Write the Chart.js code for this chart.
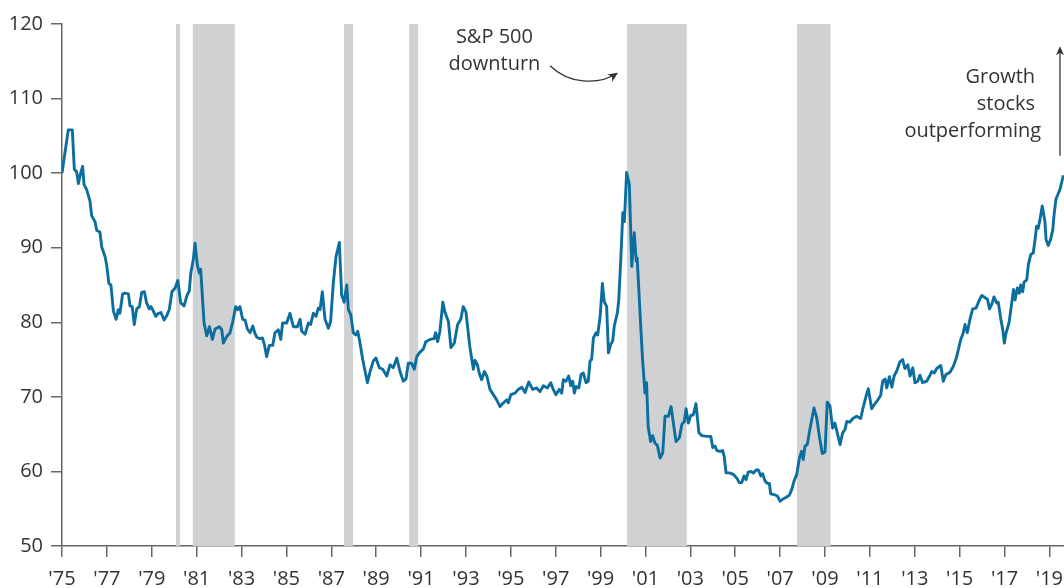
<!DOCTYPE html>
<html>
<head>
<meta charset="utf-8">
<script src="https://cdn.jsdelivr.net/npm/chart.js@4.4.1/dist/chart.umd.min.js"></script>
<style>
    html, body { margin: 0; padding: 0; background: #fff; }
    #chartWrap { width: 1064px; height: 588px; }
</style>
</head>
<body>
<div id="chartWrap"><canvas id="growthChart" width="1064" height="588"></canvas></div>
<script>
// Growth vs value relative index (start = 100)
const years = [
    1975.00, 1975.28, 1975.46, 1975.55, 1975.65, 1975.73, 1975.83, 1975.92, 1975.98, 1976.10,
    1976.25, 1976.32, 1976.47, 1976.55, 1976.69, 1976.77, 1976.92, 1976.99, 1977.09, 1977.18,
    1977.29, 1977.41, 1977.51, 1977.58, 1977.70, 1977.81, 1977.96, 1978.03, 1978.13, 1978.22,
    1978.33, 1978.45, 1978.55, 1978.67, 1978.77, 1978.89, 1978.97, 1979.07, 1979.18, 1979.29,
    1979.41, 1979.55, 1979.67, 1979.78, 1979.90, 1980.04, 1980.16, 1980.29, 1980.44, 1980.56,
    1980.67, 1980.74, 1980.85, 1980.93, 1981.03, 1981.12, 1981.18, 1981.33, 1981.45, 1981.57,
    1981.70, 1981.82, 1982.01, 1982.12, 1982.19, 1982.34, 1982.49, 1982.61, 1982.74, 1982.83,
    1982.93, 1983.05, 1983.16, 1983.26, 1983.38, 1983.50, 1983.60, 1983.68, 1983.82, 1983.93,
    1984.02, 1984.12, 1984.24, 1984.39, 1984.49, 1984.64, 1984.75, 1984.83, 1985.01, 1985.16,
    1985.31, 1985.49, 1985.61, 1985.68, 1985.83, 1985.98, 1986.08, 1986.20, 1986.32, 1986.42,
    1986.50, 1986.60, 1986.72, 1986.87, 1986.97, 1987.09, 1987.21, 1987.36, 1987.46, 1987.57,
    1987.69, 1987.76, 1987.87, 1987.98, 1988.09, 1988.18, 1988.28, 1988.40, 1988.61, 1988.73,
    1988.87, 1988.99, 1989.14, 1989.29, 1989.47, 1989.62, 1989.76, 1989.92, 1990.06, 1990.21,
    1990.33, 1990.43, 1990.58, 1990.70, 1990.81, 1990.95, 1991.10, 1991.21, 1991.40, 1991.58,
    1991.65, 1991.74, 1991.84, 1991.97, 1992.07, 1992.22, 1992.33, 1992.48, 1992.63, 1992.77,
    1992.88, 1993.00, 1993.17, 1993.33, 1993.40, 1993.51, 1993.60, 1993.70, 1993.82, 1993.93,
    1994.07, 1994.22, 1994.37, 1994.52, 1994.67, 1994.82, 1994.89, 1995.00, 1995.19, 1995.33,
    1995.49, 1995.63, 1995.80, 1995.97, 1996.15, 1996.30, 1996.45, 1996.63, 1996.78, 1996.89,
    1997.01, 1997.16, 1997.27, 1997.34, 1997.46, 1997.58, 1997.67, 1997.76, 1997.83, 1997.91,
    1998.03, 1998.13, 1998.23, 1998.35, 1998.45, 1998.53, 1998.60, 1998.68, 1998.80, 1998.87,
    1998.98, 1999.08, 1999.16, 1999.27, 1999.35, 1999.45, 1999.54, 1999.61, 1999.75, 1999.81,
    1999.90, 1999.99, 2000.06, 2000.16, 2000.28, 2000.39, 2000.50, 2000.59, 2000.63, 2000.75,
    2000.87, 2000.98, 2001.05, 2001.12, 2001.23, 2001.32, 2001.42, 2001.53, 2001.65, 2001.77,
    2001.87, 2002.02, 2002.14, 2002.21, 2002.36, 2002.51, 2002.62, 2002.73, 2002.81, 2002.91,
    2003.02, 2003.13, 2003.25, 2003.38, 2003.51, 2003.73, 2003.91, 2004.00, 2004.10, 2004.18,
    2004.32, 2004.44, 2004.51, 2004.59, 2004.74, 2004.92, 2005.07, 2005.18, 2005.29, 2005.39,
    2005.48, 2005.58, 2005.70, 2005.81, 2005.93, 2006.03, 2006.14, 2006.22, 2006.33, 2006.43,
    2006.52, 2006.58, 2006.73, 2006.88, 2007.00, 2007.12, 2007.26, 2007.41, 2007.52, 2007.62,
    2007.74, 2007.86, 2007.96, 2008.03, 2008.11, 2008.21, 2008.30, 2008.38, 2008.51, 2008.63,
    2008.75, 2008.88, 2009.00, 2009.10, 2009.22, 2009.34, 2009.44, 2009.52, 2009.67, 2009.79,
    2009.89, 2009.97, 2010.11, 2010.24, 2010.41, 2010.59, 2010.71, 2010.83, 2010.93, 2011.08,
    2011.23, 2011.38, 2011.48, 2011.57, 2011.68, 2011.75, 2011.87, 2011.98, 2012.08, 2012.20,
    2012.34, 2012.46, 2012.56, 2012.69, 2012.79, 2012.91, 2013.01, 2013.13, 2013.23, 2013.35,
    2013.53, 2013.68, 2013.76, 2013.87, 2013.98, 2014.16, 2014.27, 2014.39, 2014.57, 2014.72,
    2014.84, 2014.94, 2015.05, 2015.16, 2015.24, 2015.34, 2015.46, 2015.58, 2015.73, 2015.88,
    2015.99, 2016.13, 2016.24, 2016.33, 2016.43, 2016.53, 2016.65, 2016.72, 2016.83, 2016.92,
    2016.99, 2017.07, 2017.20, 2017.29, 2017.40, 2017.47, 2017.57, 2017.66, 2017.72, 2017.81,
    2017.87, 2017.99, 2018.06, 2018.17, 2018.28, 2018.36, 2018.43, 2018.50, 2018.58, 2018.68,
    2018.80, 2018.85, 2018.95, 2019.06, 2019.15, 2019.20, 2019.29, 2019.47, 2019.62
];

const values = [
    100.0, 105.8, 105.8, 100.5, 100.2, 98.6, 100.0, 100.9, 98.5, 97.8,
    96.2, 94.3, 93.5, 92.3, 92.1, 90.1, 88.8, 87.7, 85.2, 85.0,
    81.5, 80.4, 81.7, 81.2, 83.8, 83.9, 83.8, 82.2, 82.1, 79.7,
    81.8, 82.1, 84.0, 84.1, 82.6, 81.8, 82.1, 81.5, 80.8, 81.2,
    81.3, 80.3, 80.9, 81.7, 84.1, 84.6, 85.6, 82.6, 82.2, 83.5,
    84.2, 86.6, 88.4, 90.6, 87.7, 86.6, 87.1, 79.9, 78.2, 79.4,
    77.7, 79.1, 79.4, 79.0, 77.2, 78.1, 78.6, 80.1, 82.1, 81.7,
    82.1, 80.4, 80.3, 79.1, 78.6, 79.5, 78.5, 78.0, 77.8, 77.9,
    77.0, 75.4, 76.9, 76.9, 78.6, 79.0, 77.7, 79.9, 79.9, 81.2,
    79.4, 79.4, 80.4, 78.8, 78.4, 79.9, 79.7, 81.2, 80.8, 81.9,
    81.7, 84.1, 80.4, 79.2, 80.1, 85.3, 88.8, 90.7, 83.7, 82.7,
    85.0, 81.7, 81.0, 78.6, 78.3, 78.8, 77.2, 75.0, 71.9, 73.4,
    74.8, 75.2, 73.9, 73.7, 72.8, 74.3, 73.9, 75.2, 73.4, 72.1,
    72.4, 74.5, 74.5, 73.7, 75.4, 76.0, 76.4, 77.4, 77.7, 77.8,
    78.6, 77.4, 78.8, 82.7, 81.3, 80.1, 76.6, 77.2, 79.7, 80.4,
    82.1, 81.4, 76.8, 73.7, 74.9, 74.3, 73.1, 72.3, 73.4, 72.8,
    71.0, 70.3, 69.6, 68.7, 69.2, 69.6, 69.2, 70.3, 70.5, 71.0,
    71.3, 70.6, 72.0, 71.0, 71.2, 70.7, 71.5, 71.2, 71.9, 71.0,
    70.3, 71.0, 70.5, 72.3, 72.1, 72.8, 71.5, 72.1, 70.5, 71.4,
    71.2, 73.0, 73.2, 71.9, 72.1, 74.8, 75.0, 77.9, 78.6, 78.3,
    80.8, 85.2, 82.8, 82.1, 75.9, 77.0, 77.5, 79.5, 81.3, 83.0,
    88.4, 94.7, 93.5, 100.1, 98.5, 87.5, 92.0, 88.2, 88.6, 81.7,
    75.0, 70.5, 71.9, 66.0, 64.0, 64.8, 63.8, 63.5, 61.8, 62.5,
    67.4, 67.4, 68.7, 67.2, 64.0, 64.5, 66.3, 66.7, 68.4, 66.5,
    67.5, 67.6, 69.1, 65.2, 64.8, 64.7, 64.7, 63.2, 63.4, 62.8,
    62.7, 62.8, 62.0, 59.8, 59.8, 59.6, 59.1, 58.5, 58.5, 59.4,
    58.9, 59.9, 60.0, 59.8, 60.2, 60.2, 59.4, 59.7, 58.7, 58.4,
    58.4, 57.0, 56.9, 56.7, 56.0, 56.3, 56.5, 56.8, 57.6, 58.7,
    59.6, 61.8, 62.7, 61.6, 63.4, 63.6, 65.2, 66.5, 68.5, 67.2,
    64.7, 62.4, 62.6, 69.3, 68.8, 65.8, 66.5, 65.5, 63.6, 65.2,
    65.6, 66.7, 66.6, 67.1, 67.4, 67.1, 68.7, 70.1, 71.1, 68.4,
    69.1, 69.7, 70.2, 72.1, 72.4, 71.2, 72.7, 71.3, 72.8, 73.5,
    74.7, 75.0, 73.8, 74.3, 72.8, 73.9, 71.9, 72.1, 72.9, 71.9,
    72.1, 72.9, 73.4, 73.2, 73.8, 74.2, 72.1, 73.0, 73.3, 74.1,
    75.1, 76.3, 77.7, 78.6, 79.7, 78.6, 80.4, 81.8, 81.9, 83.0,
    83.6, 83.3, 83.1, 81.8, 82.4, 83.4, 82.6, 82.7, 80.5, 79.0,
    77.2, 78.6, 79.9, 81.9, 84.4, 83.0, 84.6, 83.9, 85.0, 84.1,
    85.4, 85.7, 87.7, 89.1, 89.3, 91.1, 92.9, 92.6, 93.8, 95.6,
    93.5, 91.1, 90.3, 91.2, 92.4, 94.2, 96.5, 97.8, 99.7
];

const xTickYears = [1975, 1977, 1979, 1981, 1983, 1985, 1987, 1989, 1991, 1993, 1995, 1997,
    1999, 2001, 2003, 2005, 2007, 2009, 2011, 2013, 2015, 2017, 2019];
const yTickValues = [50, 60, 70, 80, 90, 100, 110, 120];

// S&P 500 downturns (shaded)
const bandStarts = [1980.08, 1980.83, 1987.57, 1990.47, 2000.18, 2007.75];
const bandEnds = [1980.26, 1982.70, 1987.97, 1990.87, 2002.84, 2009.25];

// annotation text
const downturnLines = ['S&P 500', 'downturn'];
const growthLines = ['Growth', 'stocks', 'outperforming'];

const lineColor = '#0b6e9e';
const bandColor = '#d0d1d3';
const axisColor = '#666666';
const textColor = '#333333';
const fontFamily = '"Open Sans", "Noto Sans", sans-serif';

const shadedBands = {
    id: 'shadedBands',
    beforeDatasetsDraw(chart) {
        const { ctx, chartArea, scales: { x } } = chart;
        ctx.save();
        ctx.fillStyle = bandColor;
        bandStarts.forEach((start, i) => {
            const x0 = x.getPixelForValue(start);
            const x1 = x.getPixelForValue(bandEnds[i]);
            ctx.fillRect(x0, chartArea.top, x1 - x0, chartArea.bottom - chartArea.top);
        });
        ctx.restore();
    },
};

function arrowHead(ctx, tipX, tipY, angle, len, half) {
    ctx.beginPath();
    ctx.moveTo(tipX, tipY);
    ctx.lineTo(tipX - len * Math.cos(angle) + half * Math.sin(angle), tipY - len * Math.sin(angle) - half * Math.cos(angle));
    ctx.lineTo(tipX - len * 0.7 * Math.cos(angle), tipY - len * 0.7 * Math.sin(angle));
    ctx.lineTo(tipX - len * Math.cos(angle) - half * Math.sin(angle), tipY - len * Math.sin(angle) + half * Math.cos(angle));
    ctx.closePath();
    ctx.fill();
}

const notes = {
    id: 'notes',
    afterDraw(chart) {
        const { ctx, scales: { x, y } } = chart;
        const px = (yr, v) => [x.getPixelForValue(yr), y.getPixelForValue(v)];
        ctx.save();
        ctx.fillStyle = textColor;
        ctx.strokeStyle = textColor;
        ctx.font = '20px ' + fontFamily;
        ctx.textBaseline = 'alphabetic';

        // S&P 500 downturn label
        ctx.textAlign = 'center';
        const [dx, dy1] = px(1994.27, 117.43);
        const [, dy2] = px(1994.27, 113.78);
        ctx.fillText(downturnLines[0], dx, dy1);
        ctx.fillText(downturnLines[1], dx, dy2);

        // curved arrow
        const p0 = px(1996.75, 114.41);
        const c1 = px(1997.55, 112.0);
        const c2 = px(1998.89, 111.73);
        const p3 = px(1999.73, 113.4);
        ctx.lineWidth = 1.3;
        ctx.beginPath();
        ctx.moveTo(p0[0], p0[1]);
        ctx.bezierCurveTo(c1[0], c1[1], c2[0], c2[1], p3[0], p3[1]);
        ctx.stroke();
        arrowHead(ctx, p3[0] + 1, p3[1] - 0.5, Math.atan2(p3[1] - c2[1], p3[0] - c2[0]), 10, 4.5);

        // growth label
        ctx.textAlign = 'right';
        const growthRight = [2018.36, 2018.36, 2018.63];
        const growthBase = [112.09, 108.47, 104.85];
        growthLines.forEach((t, i) => {
            const [gx, gy] = px(growthRight[i], growthBase[i]);
            ctx.fillText(t, gx, gy);
        });

        // vertical arrow
        const [ax, ay0] = px(2019.47, 102.34);
        const [, ay1] = px(2019.47, 117.0);
        ctx.lineWidth = 1.3;
        ctx.beginPath();
        ctx.moveTo(ax, ay0);
        ctx.lineTo(ax, ay1 + 6);
        ctx.stroke();
        arrowHead(ctx, ax, ay1, -Math.PI / 2, 9, 4);
        ctx.restore();
    },
};

const ctx = document.getElementById('growthChart').getContext('2d');
new Chart(ctx, {
    type: 'line',
    data: {
        datasets: [{
            data: years.map((yr, i) => ({ x: yr, y: values[i] })),
            borderColor: lineColor,
            borderWidth: 2.9,
            pointRadius: 0,
            tension: 0,
            fill: false,
            borderJoinStyle: 'round',
        }],
    },
    options: {
        responsive: false,
        animation: false,
        devicePixelRatio: 1,
        layout: { padding: { top: 24, left: 0, right: 0, bottom: 0 } },
        plugins: {
            legend: { display: false },
            tooltip: { enabled: false },
        },
        scales: {
            x: {
                type: 'linear',
                min: 1975,
                max: 2019.65,
                z: 1,
                afterFit(scale) {
                    scale.height = 42;
                    scale.paddingLeft = 0;
                    scale.paddingRight = 0;
                },
                afterBuildTicks(scale) {
                    scale.ticks = xTickYears.map((v) => ({ value: v }));
                },
                grid: { drawOnChartArea: false, tickLength: 11, color: axisColor, lineWidth: 1.5 },
                border: { display: true, color: axisColor, width: 1.5 },
                ticks: {
                    autoSkip: false,
                    maxRotation: 0,
                    padding: 10,
                    color: textColor,
                    font: { family: fontFamily, size: 20 },
                    callback: (v) => "'" + String(v).slice(2),
                },
            },
            y: {
                type: 'linear',
                min: 50,
                max: 120,
                z: 1,
                afterFit(scale) {
                    scale.width = 62;
                },
                afterBuildTicks(scale) {
                    scale.ticks = yTickValues.map((v) => ({ value: v }));
                },
                grid: { drawOnChartArea: false, tickLength: 11, color: axisColor, lineWidth: 1.5 },
                border: { display: true, color: axisColor, width: 1.5 },
                ticks: {
                    padding: 8,
                    color: textColor,
                    font: { family: fontFamily, size: 20 },
                },
            },
        },
    },
    plugins: [shadedBands, notes],
});
</script>
</body>
</html>
